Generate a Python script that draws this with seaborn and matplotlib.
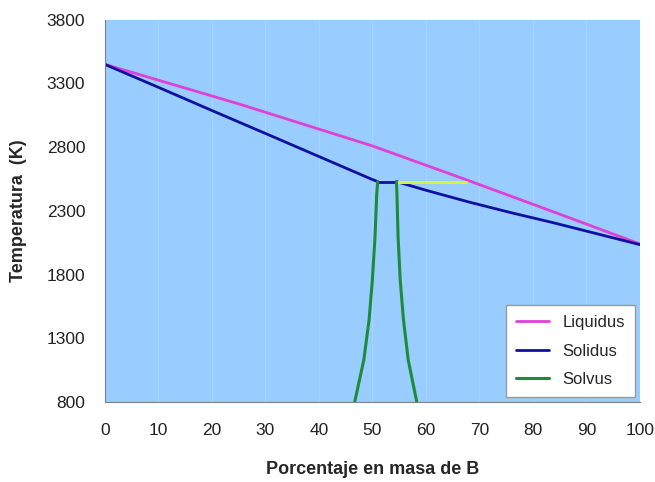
import pandas as pd
import numpy as np
import matplotlib
matplotlib.use("Agg")
import matplotlib.pyplot as plt
import seaborn as sns

# ===============================
# Data
# ===============================

liq_x = [0, 25, 50, 67.5, 84, 100]
liq_t = [3450, 3140, 2810, 2545, 2290, 2040]

sol_left_x = [0, 10, 20, 30, 40, 50, 51]
sol_left_t = [3450, 3270, 3088, 2908, 2727, 2546, 2530]

flat_x = [51, 54.5]
flat_t = [2530, 2530]

sol_right_x = [54.5, 60, 68, 76, 84, 92, 100]
sol_right_t = [2530, 2462, 2370, 2285, 2205, 2120, 2035]

tie_x = [54.5, 67.5]
tie_t = [2530, 2530]

solv_left_x = [51, 50.8, 50.5, 50.0, 49.4, 48.4, 46.7]
solv_left_t = [2530, 2420, 2100, 1760, 1450, 1130, 800]

solv_right_x = [54.5, 54.6, 54.8, 55.2, 55.8, 56.7, 58.3]
solv_right_t = [2530, 2420, 2100, 1760, 1450, 1130, 800]

x_ticks = list(range(0, 101, 10))
y_ticks = [800, 1300, 1800, 2300, 2800, 3300, 3800]

# ===============================
# Style
# ===============================

sns.set_style("white")
plt.rcParams["font.family"] = ["Liberation Sans", "DejaVu Sans"]

fig = plt.figure(figsize=(6.55, 4.82), dpi=100)
ax = fig.add_axes([0.160, 0.166, 0.817, 0.793])
ax.set_facecolor("#99CCFF")

liq_c = "#E040D8"
sol_c = "#1010A0"
solv_c = "#1E8A3C"

for xv in x_ticks[1:-1]:
    ax.axvline(xv, color="#A6D3FF", lw=0.8, zorder=0)

sns.lineplot(x=liq_x, y=liq_t, ax=ax, color=liq_c, lw=2, label="Liquidus", sort=False)
sns.lineplot(x=sol_left_x, y=sol_left_t, ax=ax, color=sol_c, lw=2, label="Solidus", sort=False)
sns.lineplot(x=flat_x, y=flat_t, ax=ax, color=sol_c, lw=2, sort=False)
sns.lineplot(x=sol_right_x, y=sol_right_t, ax=ax, color=sol_c, lw=2, sort=False)
sns.lineplot(x=tie_x, y=tie_t, ax=ax, color="#DDF040", lw=2.2, sort=False)
sns.lineplot(x=solv_left_x, y=solv_left_t, ax=ax, color=solv_c, lw=2.2, label="Solvus", sort=False)
sns.lineplot(x=solv_right_x, y=solv_right_t, ax=ax, color=solv_c, lw=2.2, sort=False)

ax.set_xlim(0, 100)
ax.set_ylim(800, 3800)
ax.set_xticks(x_ticks)
ax.set_yticks(y_ticks)
ax.tick_params(axis="both", direction="out", length=5, width=0.8,
               color="#808080", labelsize=12.5, labelcolor="#222222")
ax.tick_params(axis="x", pad=10)
ax.tick_params(axis="y", pad=9)

for side in ["top", "right"]:
    ax.spines[side].set_visible(False)
for side in ["left", "bottom"]:
    ax.spines[side].set_color("#808080")
    ax.spines[side].set_linewidth(0.8)

ax.set_xlabel("Porcentaje en masa de B", fontsize=13, fontweight="bold", labelpad=17)
ax.set_ylabel("Temperatura  (K)", fontsize=13, fontweight="bold", labelpad=14)

leg = ax.legend(loc="lower right", frameon=True, fancybox=False, fontsize=12,
                borderaxespad=0.3, handlelength=2.0, labelspacing=0.8,
                borderpad=0.6)
leg.get_frame().set_edgecolor("#999999")
leg.get_frame().set_facecolor("white")
leg.get_frame().set_alpha(1)

plt.savefig("out.png", dpi=100)
plt.close()
